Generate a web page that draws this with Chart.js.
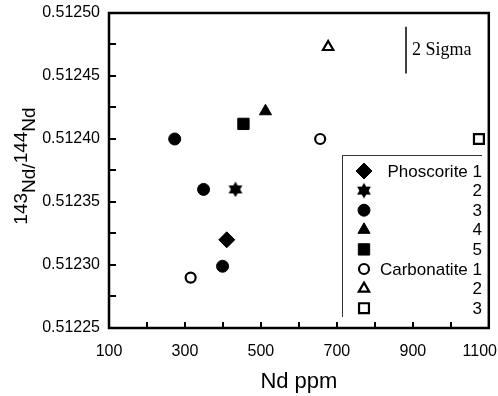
<!DOCTYPE html>
<html>
<head>
<meta charset="utf-8">
<script src="https://cdn.jsdelivr.net/npm/chart.js@4"></script>
<style>html,body{margin:0;padding:0;background:#fff}</style>
</head>
<body>
<canvas id="chart" width="498" height="396"></canvas>
<script>
// axis ticks
const xTicks = [100, 200, 300, 400, 500, 600, 700, 800, 900, 1000, 1100];
const xTickLabels = ['100', '', '300', '', '500', '', '700', '', '900', '', '1100'];
const yTicks = [0.51225, 0.512275, 0.5123, 0.512325, 0.51235, 0.512375, 0.5124, 0.512425, 0.51245, 0.512475, 0.5125];
const yTickLabels = ['0.51225', '', '0.51230', '', '0.51235', '', '0.51240', '', '0.51245', '', '0.51250'];

// samples (Nd ppm, 143Nd/144Nd)
const seriesNames = ['Phoscorite 1', '2', '3', '4', '5', 'Carbonatite 1', '2', '3'];
const phos1 = [{x: 410, y: 0.51232}];
const phos2 = [{x: 433, y: 0.51236}];
const phos3 = [{x: 273, y: 0.51240}, {x: 349, y: 0.51236}, {x: 399, y: 0.512299}];
const phos4 = [{x: 512, y: 0.512422}];
const phos5 = [{x: 454, y: 0.512412}];
const carb1 = [{x: 656, y: 0.51240}, {x: 315, y: 0.51229}];
const carb2 = [{x: 677, y: 0.512473}];
const carb3 = [{x: 1074, y: 0.51240}];

// 2 sigma error bar
const sigmaX = 882;
const sigmaY = [0.512452, 0.512489];

const FONT = "'Liberation Sans', Arial, sans-serif";

function hexagram(size) {
    const c = document.createElement('canvas');
    c.width = c.height = size;
    const g = c.getContext('2d');
    const r = size / 2;
    g.fillStyle = '#000';
    [-Math.PI / 2, Math.PI / 2].forEach(function (a0) {
        g.beginPath();
        for (let i = 0; i < 3; i++) {
            const a = a0 + i * 2 * Math.PI / 3;
            g.lineTo(r + r * Math.cos(a), r + r * 0.98 * Math.sin(a));
        }
        g.closePath();
        g.fill();
    });
    return c;
}
const star = hexagram(16);

function ds(label, data, style, radius, filled) {
    return {
        label: label,
        data: data,
        showLine: false,
        pointStyle: style,
        pointRadius: radius,
        pointHoverRadius: radius,
        pointBackgroundColor: filled ? '#000' : '#fff',
        pointBorderColor: '#000',
        pointBorderWidth: filled ? 1 : 2.2
    };
}

const datasets = [
    ds(seriesNames[0], phos1, 'rectRot', 8, true),
    ds(seriesNames[1], phos2, star, 7, true),
    ds(seriesNames[2], phos3, 'circle', 6, true),
    ds(seriesNames[3], phos4, 'triangle', 7, true),
    ds(seriesNames[4], phos5, 'rect', 8, true),
    ds(seriesNames[5], carb1, 'circle', 5, false),
    ds(seriesNames[6], carb2, 'triangle', 6, false),
    ds(seriesNames[7], carb3, 'rect', 7, false)
];

function drawMarker(ctx, d, x, y) {
    ctx.save();
    ctx.fillStyle = d.pointBackgroundColor;
    ctx.strokeStyle = d.pointBorderColor;
    ctx.lineWidth = d.pointBorderWidth;
    Chart.helpers.drawPoint(ctx, {pointStyle: d.pointStyle, radius: d.pointRadius, rotation: 0, borderWidth: d.pointBorderWidth}, x, y);
    ctx.restore();
}

const decorations = {
    id: 'decorations',
    afterDraw: function (chart) {
        const ctx = chart.ctx;
        const a = chart.chartArea;
        const xs = chart.scales.x, ys = chart.scales.y;
        ctx.save();
        ctx.strokeStyle = '#000';
        // inward ticks
        ctx.lineWidth = 2;
        ctx.beginPath();
        yTicks.slice(1, -1).forEach(function (v) {
            const py = Math.round(ys.getPixelForValue(v));
            ctx.moveTo(a.left, py); ctx.lineTo(a.left + 7, py);
        });
        xTicks.slice(1, -1).forEach(function (v) {
            const px = Math.round(xs.getPixelForValue(v));
            ctx.moveTo(px, a.bottom); ctx.lineTo(px, a.bottom - 6);
        });
        ctx.stroke();
        // frame
        ctx.lineWidth = 2.5;
        ctx.strokeRect(a.left, a.top, a.right - a.left, a.bottom - a.top);

        // x tick labels, kept inside the canvas
        ctx.fillStyle = '#000';
        ctx.font = '16px ' + FONT;
        ctx.textAlign = 'center';
        ctx.textBaseline = 'middle';
        xTicks.forEach(function (v, i) {
            const t = xTickLabels[i];
            if (!t) return;
            const w = ctx.measureText(t).width;
            const px = Math.min(xs.getPixelForValue(v), chart.width - w / 2 - 1);
            ctx.fillText(t, px, a.bottom + 24);
        });

        // 2 sigma bar
        const sx = xs.getPixelForValue(sigmaX);
        ctx.lineWidth = 1.5;
        ctx.beginPath();
        ctx.moveTo(sx, ys.getPixelForValue(sigmaY[0]));
        ctx.lineTo(sx, ys.getPixelForValue(sigmaY[1]));
        ctx.stroke();
        ctx.font = "18px 'Liberation Serif', 'Times New Roman', serif";
        ctx.textAlign = 'left';
        ctx.fillText('2 Sigma', sx + 6, ys.getPixelForValue((sigmaY[0] + sigmaY[1]) / 2));

        // legend box
        ctx.lineWidth = 1;
        ctx.strokeStyle = '#333';
        ctx.beginPath();
        ctx.moveTo(342.5, 155); ctx.lineTo(342.5, 317);
        ctx.moveTo(342.5, 155.5); ctx.lineTo(482, 155.5);
        ctx.stroke();
        ctx.font = '17px ' + FONT;
        ctx.textAlign = 'right';
        chart.data.datasets.forEach(function (d, i) {
            const y = 171 + i * 19.6;
            drawMarker(ctx, d, 364, y);
            ctx.fillStyle = '#000';
            ctx.fillText(d.label, 482, y + 1);
        });

        // y axis title 143Nd/144Nd
        ctx.translate(22, 166);
        ctx.rotate(-Math.PI / 2);
        ctx.font = '19px ' + FONT;
        ctx.textAlign = 'left';
        const parts = [['143', 0], ['Nd/', 8], ['144', 0], ['Nd', 8]];
        let total = 0;
        parts.forEach(function (p) { total += ctx.measureText(p[0]).width; });
        let px = -total / 2;
        parts.forEach(function (p) {
            ctx.fillText(p[0], px, p[1]);
            px += ctx.measureText(p[0]).width;
        });
        ctx.restore();
    }
};

new Chart(document.getElementById('chart'), {
    type: 'scatter',
    data: {datasets: datasets},
    options: {
        responsive: false,
        animation: false,
        devicePixelRatio: 1,
        layout: {padding: {top: 13, right: 8, left: 0, bottom: 0}},
        plugins: {legend: {display: false}, tooltip: {enabled: false}},
        scales: {
            x: {
                type: 'linear', min: 100, max: 1100,
                afterBuildTicks: function (s) { s.ticks = xTicks.map(function (v) { return {value: v}; }); },
                afterFit: function (s) { s.height = 68; s.paddingLeft = 0; s.paddingRight = 0; },
                ticks: {display: false},
                grid: {display: false, drawTicks: false},
                border: {display: false},
                title: {display: true, text: 'Nd ppm', font: {family: FONT, size: 22}, color: '#000', padding: {top: 0, bottom: 1}}
            },
            y: {
                type: 'linear', min: 0.51225, max: 0.5125,
                afterBuildTicks: function (s) { s.ticks = yTicks.map(function (v) { return {value: v}; }); },
                afterFit: function (s) { s.width = 109; s.paddingTop = 0; s.paddingBottom = 0; },
                ticks: {
                    callback: function (v, i) { return yTickLabels[i]; },
                    font: {family: FONT, size: 16}, color: '#000',
                    padding: 9, autoSkip: false
                },
                grid: {display: false, drawTicks: false},
                border: {display: false}
            }
        }
    },
    plugins: [decorations]
});
</script>
</body>
</html>
